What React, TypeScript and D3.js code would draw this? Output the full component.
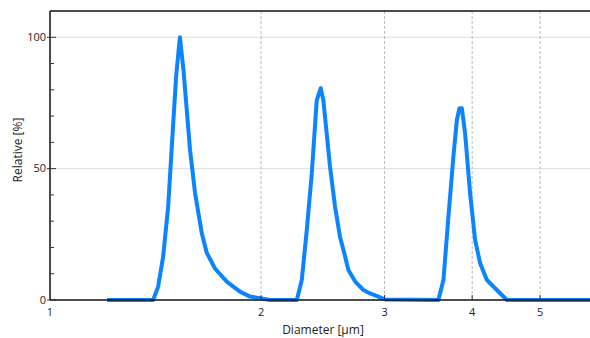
import * as d3 from "d3";

// ── Data ──────────────────────────────────────────────

const diameter = [
  1.206, 1.403, 1.426, 1.45, 1.474, 1.493, 1.513, 1.532, 1.55, 1.584, 1.61, 1.646,
  1.673, 1.719, 1.787, 1.866, 1.929, 2.004, 2.06,
  2.249, 2.286, 2.324, 2.362, 2.401, 2.433, 2.454, 2.508, 2.55, 2.592, 2.636,
  2.664, 2.724, 2.799, 2.861, 2.94, 3.006,
  3.58, 3.64, 3.7, 3.761, 3.804, 3.837, 3.867, 3.908, 3.973, 4.039, 4.106,
  4.198, 4.338, 4.483, 5.89,
];

const relative = [
  0, 0, 5, 16.5, 35.5, 60, 85, 100, 87.6, 57, 40.8, 25.5,
  18, 12, 7, 3.2, 1.3, 0.6, 0,
  0, 7.6, 26.7, 48, 76, 80.6, 76, 50.8, 35.5, 24, 16.5,
  11.4, 7, 3.8, 2.5, 1.3, 0.2,
  0, 7.6, 31.7, 54.6, 68.5, 73, 73, 63.5, 40.6, 22.8, 14,
  7.6, 3.8, 0, 0,
];

const xTicks = [1, 2, 3, 4, 5];
const xGrid = [2, 3, 4, 5];
const yMajor = [0, 50, 100];
const yMinor = [10, 20, 30, 40, 60, 70, 80, 90];

// ── Layout ────────────────────────────────────────────

const W = 590;
const H = 338;
const left = 50;
const right = 590;
const top = 11;
const bottom = 300;
const font = "'Open Sans', 'DejaVu Sans', sans-serif";

export default function App() {
  const x = d3.scaleLog().domain([1, 5.89]).range([left, right]);
  const y = d3.scaleLinear().domain([0, 110]).range([bottom, top]);

  const points = diameter.map((d, i) => [d, relative[i]] as [number, number]);
  const line = d3
    .line<[number, number]>()
    .x((d) => x(d[0]))
    .y((d) => y(d[1]));

  return (
    <svg
      width={W}
      height={H}
      style={{ position: "absolute", left: 0, top: 0, background: "#fff" }}
    >
      {/* Grid */}
      {yMajor
        .filter((v) => v > 0)
        .map((v) => (
          <line
            key={`gy${v}`}
            x1={left}
            x2={right}
            y1={y(v)}
            y2={y(v)}
            stroke="#dcdcdc"
            strokeWidth={1}
          />
        ))}
      {xGrid.map((v) => (
        <line
          key={`gx${v}`}
          x1={x(v)}
          x2={x(v)}
          y1={top}
          y2={bottom}
          stroke="#b8b8b8"
          strokeWidth={1}
          strokeDasharray="3,2"
        />
      ))}

      {/* Curve */}
      <path
        d={line(points) ?? ""}
        fill="none"
        stroke="#0a84ff"
        strokeWidth={4}
        strokeLinejoin="round"
      />

      {/* Frame */}
      <line x1={left} x2={right} y1={top} y2={top} stroke="#111" strokeWidth={1.5} />
      <line x1={left} x2={left} y1={top} y2={bottom} stroke="#111" strokeWidth={1.5} />
      <line x1={left} x2={right} y1={bottom} y2={bottom} stroke="#111" strokeWidth={1.5} />

      {/* Y ticks */}
      {yMinor.map((v) => (
        <line key={`ym${v}`} x1={left} x2={left + 4} y1={y(v)} y2={y(v)} stroke="#333" />
      ))}
      {yMajor.map((v) => (
        <g key={`yM${v}`}>
          <line x1={left - 3} x2={left + 6} y1={y(v)} y2={y(v)} stroke="#333" />
          <text
            x={left - 4}
            y={y(v)}
            dy="0.35em"
            textAnchor="end"
            fontFamily={font}
            fontSize={11}
            fill="#222"
          >
            {v}
          </text>
        </g>
      ))}

      {/* X ticks */}
      {xTicks.map((v) => (
        <g key={`xt${v}`}>
          {v > 1 && (
            <line x1={x(v)} x2={x(v)} y1={bottom} y2={bottom - 5} stroke="#333" />
          )}
          <text
            x={x(v)}
            y={bottom + 16}
            textAnchor="middle"
            fontFamily={font}
            fontSize={11}
            fill="#222"
          >
            {v}
          </text>
        </g>
      ))}

      {/* Axis titles */}
      <text
        x={323}
        y={334}
        textAnchor="middle"
        fontFamily={font}
        fontSize={12}
        fill="#222"
      >
        Diameter [µm]
      </text>
      <text
        transform={`translate(22, 150) rotate(-90)`}
        textAnchor="middle"
        fontFamily={font}
        fontSize={12}
        fill="#222"
      >
        Relative [%]
      </text>
    </svg>
  );
}
